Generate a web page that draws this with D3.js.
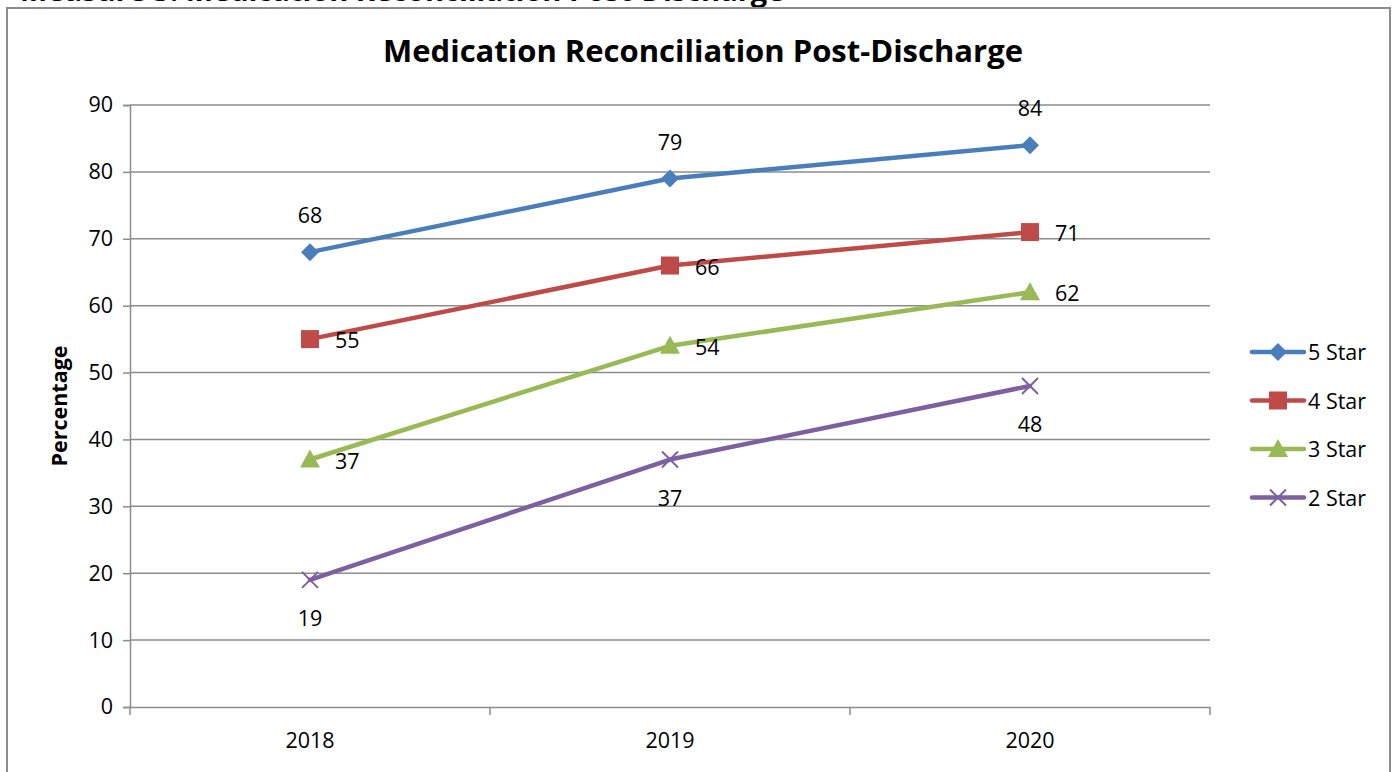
<!DOCTYPE html>
<html><head><meta charset="utf-8">
<script src="https://cdn.jsdelivr.net/npm/d3@7"></script>
<style>body{margin:0;background:#fff}svg{display:block}text{font-family:"Open Sans","Liberation Sans",sans-serif}</style>
</head><body><svg id="c" width="1400" height="772"></svg>
<script>
const years = ["2018","2019","2020"];
const seriesNames = ["5 Star","4 Star","3 Star","2 Star"];
const star5 = [68,79,84];
const star4 = [55,66,71];
const star3 = [37,54,62];
const star2 = [19,37,48];
const yTicks = [0,10,20,30,40,50,60,70,80,90];
const colors = ["#4a7ebb","#be4b48","#98b954","#7d60a0"];
const symbols = ["diamond","square","triangle","cross"];
const labelPos = ["above","right","right","below"];
const title = "Medication Reconciliation Post-Discharge";
const heading = "Measure 5: Medication Reconciliation Post-Discharge";

const values = [star5,star4,star3,star2];
const svg = d3.select("#c");
const L=130,R=1210,T=105,B=707;
const FS=21.5;
const x = d3.scaleBand().domain(years).range([L,R]);
const y = d3.scaleLinear().domain([0,90]).range([B,T]);

// clipped heading above frame (cut off in the reference too)
svg.append("text").attr("x",20).attr("y",1).attr("font-size",29).attr("font-weight","bold").attr("fill","#000").text(heading);
// frame
svg.append("rect").attr("x",7).attr("y",8).attr("width",1383).attr("height",800).attr("fill","#fff").attr("stroke","#8c8c8c").attr("stroke-width",2);

// gridlines
svg.append("g").selectAll("line").data(yTicks.slice(1)).join("line")
  .attr("x1",L).attr("x2",R).attr("y1",d=>y(d)).attr("y2",d=>y(d))
  .attr("stroke","#8c8c8c").attr("stroke-width",1.5);

// y axis
const ya = svg.append("g").attr("transform",`translate(${L},0)`)
  .call(d3.axisLeft(y).tickValues(yTicks).tickSize(7).tickPadding(10));
ya.select(".domain").attr("stroke","#8c8c8c").attr("stroke-width",1.5);
ya.selectAll(".tick line").attr("stroke","#8c8c8c").attr("stroke-width",1.5);
ya.selectAll(".tick text").attr("font-size",FS).attr("fill","#000").attr("font-family","Open Sans");

// x axis
const xa = svg.append("g").attr("transform",`translate(0,${B})`)
  .call(d3.axisBottom(x).tickSize(0).tickPadding(26));
xa.select(".domain").attr("stroke","#8c8c8c").attr("stroke-width",1.5);
xa.selectAll(".tick text").attr("font-size",FS).attr("fill","#000").attr("font-family","Open Sans");
svg.append("g").selectAll("line").data(d3.range(years.length+1)).join("line")
  .attr("x1",i=>L+i*x.bandwidth()).attr("x2",i=>L+i*x.bandwidth())
  .attr("y1",B).attr("y2",B+8).attr("stroke","#8c8c8c").attr("stroke-width",1.5);

// title
svg.append("text").attr("x",703).attr("y",62).attr("text-anchor","middle")
  .attr("font-size",31).attr("font-weight","bold").attr("fill","#000").text(title);
// y title
svg.append("text").attr("transform","translate(67,406) rotate(-90)").attr("text-anchor","middle")
  .attr("font-size",21.5).attr("font-weight","bold").attr("fill","#000").text("Percentage");

function marker(g,type,color,cx,cy){
  if(type==="diamond") g.append("path").attr("d",`M${cx},${cy-9}L${cx+9},${cy}L${cx},${cy+9}L${cx-9},${cy}Z`).attr("fill",color);
  else if(type==="square") g.append("rect").attr("x",cx-9).attr("y",cy-9).attr("width",18).attr("height",18).attr("fill",color);
  else if(type==="triangle") g.append("path").attr("d",`M${cx},${cy-10}L${cx+10},${cy+8}L${cx-10},${cy+8}Z`).attr("fill",color);
  else { g.append("path").attr("d",`M${cx-8},${cy-8}L${cx+8},${cy+8}M${cx-8},${cy+8}L${cx+8},${cy-8}`).attr("stroke",color).attr("stroke-width",2); }
}

const line = d3.line().x((d,i)=>x(years[i])+x.bandwidth()/2).y(d=>y(d));
values.forEach((vals,si)=>{
  const g = svg.append("g");
  g.append("path").datum(vals).attr("d",line).attr("fill","none").attr("stroke",colors[si]).attr("stroke-width",4.5).attr("stroke-linejoin","round").attr("stroke-linecap","round");
  vals.forEach((v,i)=>{
    const cx = x(years[i])+x.bandwidth()/2, cy=y(v);
    marker(g,symbols[si],colors[si],cx,cy);
    let tx=cx,ty=cy,anchor="middle";
    if(labelPos[si]==="above"){ty=cy-29;}
    else if(labelPos[si]==="below"){ty=cy+46;}
    else {tx=cx+25;ty=cy+9;anchor="start";}
    g.append("text").attr("x",tx).attr("y",ty).attr("text-anchor",anchor).attr("font-size",FS).attr("fill","#000").text(v);
  });
});

// legend
seriesNames.forEach((n,i)=>{
  const ly = 352+i*48.5;
  const g = svg.append("g");
  g.append("line").attr("x1",1252).attr("x2",1304).attr("y1",ly).attr("y2",ly).attr("stroke",colors[i]).attr("stroke-width",4.5).attr("stroke-linecap","round");
  marker(g,symbols[i],colors[i],1278,ly);
  g.append("text").attr("x",1308).attr("y",ly+8).attr("font-size",FS).attr("fill","#000").text(n);
});
</script></body></html>
